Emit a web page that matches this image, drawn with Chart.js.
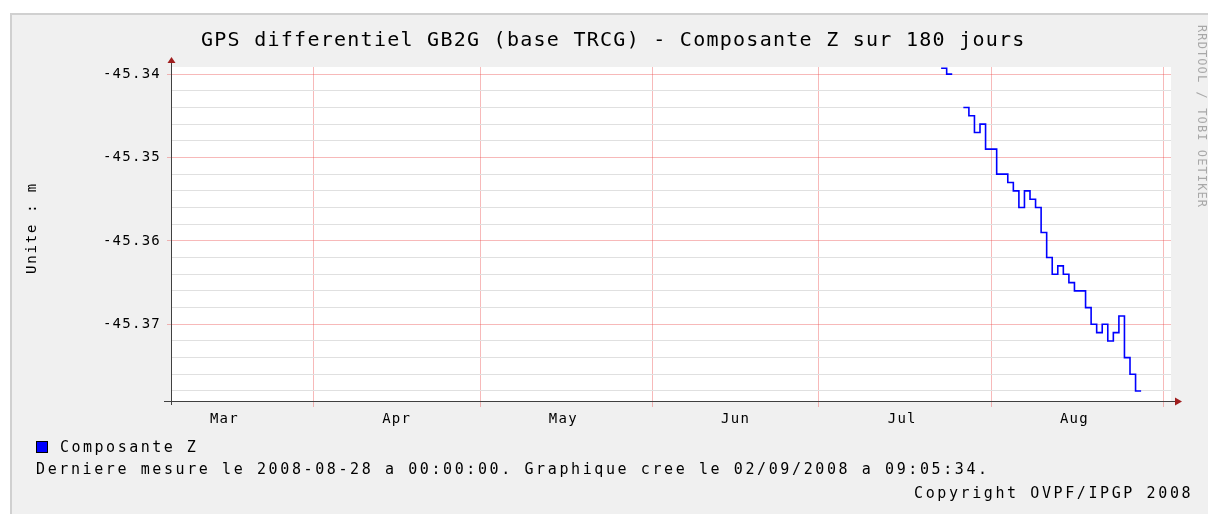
<!DOCTYPE html>
<html>
<head>
<meta charset="utf-8">
<script src="https://cdn.jsdelivr.net/npm/chart.js@4/dist/chart.umd.min.js"></script>
<style>
html,body{margin:0;padding:0;background:#fff;overflow:hidden}
canvas{display:block}
</style>
</head>
<body>
<canvas id="c" width="1208" height="514"></canvas>
<script>
// ---- texts ----
const titleText = 'GPS differentiel GB2G (base TRCG) - Composante Z sur 180 jours';
const yAxisTitle = 'Unite : m';
const seriesLabel = 'Composante Z';
const commentText = 'Derniere mesure le 2008-08-28 a 00:00:00. Graphique cree le 02/09/2008 a 09:05:34.';
const copyrightText = 'Copyright OVPF/IPGP 2008';
const watermarkText = 'RRDTOOL / TOBI OETIKER';

// ---- data: daily values (day the value applies to) ----
const sampleDays = [
  '2008-07-23','2008-07-24',
  '2008-07-27','2008-07-28','2008-07-29','2008-07-30','2008-07-31',
  '2008-08-01','2008-08-02','2008-08-03','2008-08-04','2008-08-05',
  '2008-08-06','2008-08-07','2008-08-08','2008-08-09','2008-08-10',
  '2008-08-11','2008-08-12','2008-08-13','2008-08-14','2008-08-15',
  '2008-08-16','2008-08-17','2008-08-18','2008-08-19','2008-08-20',
  '2008-08-21','2008-08-22','2008-08-23','2008-08-24','2008-08-25',
  '2008-08-26','2008-08-27'
];
const zValues = [
  -45.3393, -45.340,
  -45.344, -45.345, -45.347, -45.346, -45.349,
  -45.349, -45.352, -45.352, -45.353, -45.354,
  -45.356, -45.354, -45.355, -45.356, -45.359,
  -45.362, -45.364, -45.363, -45.364, -45.365,
  -45.366, -45.366, -45.368, -45.370, -45.371,
  -45.370, -45.372, -45.371, -45.369, -45.374,
  -45.376, -45.378
];

// ---- axes ----
const periodStart = '2008-03-06T09:05:34Z';
const periodDays = 180;
const monthLabels = ['Mar','Apr','May','Jun','Jul','Aug'];
const monthLabelDates = ['2008-03-16','2008-04-16','2008-05-16','2008-06-16','2008-07-16','2008-08-16'];
const monthGridDates = ['2008-04-01','2008-05-01','2008-06-01','2008-07-01','2008-08-01','2008-09-01'];
const yMajorTicks = [-45.34, -45.35, -45.36, -45.37];
const yMinorTicks = [-45.342,-45.344,-45.346,-45.348,-45.352,-45.354,-45.356,-45.358,
                     -45.362,-45.364,-45.366,-45.368,-45.372,-45.374,-45.376,-45.378];
const yMin = -45.3792, yMax = -45.33915;

// ---- helpers ----
const EPOCH = Date.UTC(2008, 2, 1);
const toDay = s => (Date.parse(s.length === 10 ? s + 'T00:00:00Z' : s) - EPOCH) / 86400000;
const xMin = toDay(periodStart);
const xMax = xMin + periodDays;

const points = [];
for (let i = 0; i < sampleDays.length; i++) {
  const d = toDay(sampleDays[i]);
  points.push({x: d, y: zValues[i]});
  const next = i + 1 < sampleDays.length ? toDay(sampleDays[i + 1]) : null;
  if (next === null || next - d > 1.5) {
    points.push({x: d + 1, y: zValues[i]});
    if (next !== null) points.push({x: d + 1.5, y: null});
  }
}

const MONO = 'DejaVu Sans Mono';
const RED = 'rgba(236,80,80,0.40)';
const MINOR = '#e0e0e0';
const CLEAR = 'rgba(0,0,0,0)';

function drawText(ctx, s, x, y, size, spacing, color, align, baseline, rot) {
  ctx.save();
  ctx.translate(x, y);
  if (rot) ctx.rotate(rot);
  ctx.font = size + 'px "' + MONO + '"';
  try { ctx.letterSpacing = spacing + 'px'; } catch (e) {}
  ctx.fillStyle = color;
  ctx.textAlign = align;
  ctx.textBaseline = baseline;
  ctx.fillText(s, 0, 0);
  ctx.restore();
}

const rrdPlugin = {
  id: 'rrdLook',
  beforeDraw(chart) {
    const ctx = chart.ctx, ca = chart.chartArea;
    ctx.save();
    ctx.fillStyle = '#ffffff';
    ctx.fillRect(0, 0, chart.width, chart.height);
    ctx.fillStyle = '#f0f0f0';
    ctx.fillRect(10, 13, chart.width - 10, chart.height - 13);
    ctx.fillStyle = '#d0d0d0';
    ctx.fillRect(10, 13, chart.width - 10, 2);
    ctx.fillRect(10, 13, 2, chart.height - 13);
    ctx.fillStyle = '#ffffff';
    ctx.fillRect(ca.left, ca.top, ca.right - ca.left, ca.bottom - ca.top);
    ctx.restore();
    try { ctx.letterSpacing = '1.25px'; } catch (e) {}
  },
  afterDraw(chart) {
    const ctx = chart.ctx, ca = chart.chartArea;
    try { ctx.letterSpacing = '0px'; } catch (e) {}
    ctx.save();
    // axis lines
    ctx.strokeStyle = '#404040';
    ctx.lineWidth = 1;
    ctx.beginPath();
    ctx.moveTo(ca.left + 0.5, ca.bottom + 4);
    ctx.lineTo(ca.left + 0.5, ca.top - 5);
    ctx.moveTo(ca.left - 7, ca.bottom + 0.5);
    ctx.lineTo(ca.right + 5, ca.bottom + 0.5);
    ctx.stroke();
    // arrows
    ctx.fillStyle = '#a01e1e';
    ctx.beginPath();
    ctx.moveTo(ca.left + 0.5, ca.top - 10);
    ctx.lineTo(ca.left - 3.5, ca.top - 4);
    ctx.lineTo(ca.left + 4.5, ca.top - 4);
    ctx.closePath();
    ctx.fill();
    ctx.beginPath();
    ctx.moveTo(ca.right + 11, ca.bottom + 0.5);
    ctx.lineTo(ca.right + 4, ca.bottom - 3.5);
    ctx.lineTo(ca.right + 4, ca.bottom + 4.5);
    ctx.closePath();
    ctx.fill();
    ctx.restore();

    // title
    drawText(ctx, titleText, 201, 46, 20, 1.26, '#000', 'left', 'alphabetic');
    // y axis title
    drawText(ctx, yAxisTitle, 32, 228, 14, 1.8, '#000', 'center', 'middle', -Math.PI / 2);
    // watermark
    drawText(ctx, watermarkText, 1201, 25, 12, 1.1, '#a8a8a8', 'left', 'middle', Math.PI / 2);
    // legend
    const ds = chart.data.datasets[0];
    ctx.save();
    ctx.fillStyle = ds.borderColor;
    ctx.fillRect(36.5, 441.5, 11, 11);
    ctx.strokeStyle = '#000';
    ctx.lineWidth = 1;
    ctx.strokeRect(36.5, 441.5, 11, 11);
    ctx.restore();
    drawText(ctx, ds.label, 60, 452, 15, 2.5, '#000', 'left', 'alphabetic');
    drawText(ctx, commentText, 36, 474, 15, 2.6, '#000', 'left', 'alphabetic');
    drawText(ctx, copyrightText, 914, 498, 15, 2.6, '#000', 'left', 'alphabetic');
  }
};

const xTicks = monthGridDates.map(d => ({value: toDay(d), isGrid: true, lbl: ''}))
  .concat(monthLabelDates.map((d, i) => ({value: toDay(d), isGrid: false, lbl: monthLabels[i]})))
  .sort((a, b) => a.value - b.value);
const yTicks = yMajorTicks.map(v => ({value: v, isMajor: true}))
  .concat(yMinorTicks.map(v => ({value: v, isMajor: false})))
  .sort((a, b) => a.value - b.value);

new Chart(document.getElementById('c'), {
  type: 'line',
  data: {
    datasets: [{
      label: seriesLabel,
      data: points,
      borderColor: '#0000ff',
      backgroundColor: '#0000ff',
      borderWidth: 1.6,
      pointRadius: 0,
      stepped: 'before',
      fill: false,
      spanGaps: false,
      clip: 0
    }]
  },
  options: {
    responsive: false,
    animation: false,
    devicePixelRatio: 1,
    layout: {padding: {left: 0, top: 67, right: 37, bottom: 83}},
    plugins: {legend: {display: false}, title: {display: false}, tooltip: {enabled: false}},
    scales: {
      x: {
        type: 'linear',
        min: xMin, max: xMax,
        bounds: 'data',
        afterFit: s => { s.height = 30; },
        afterBuildTicks: s => { s.ticks = xTicks.map(t => Object.assign({}, t)); },
        ticks: {
          autoSkip: false, maxRotation: 0, minRotation: 0, padding: 4,
          color: '#000', font: {family: MONO, size: 14},
          callback: (v, i, t) => (t[i] && t[i].lbl) || ''
        },
        grid: {
          color: c => (c.tick && c.tick.isGrid) ? RED : CLEAR,
          tickColor: c => (c.tick && c.tick.isGrid) ? RED : CLEAR,
          tickLength: 6, lineWidth: 1
        },
        border: {display: false}
      },
      y: {
        type: 'linear',
        min: yMin, max: yMax,
        bounds: 'data',
        afterFit: s => { s.width = 171; },
        afterBuildTicks: s => { s.ticks = yTicks.map(t => Object.assign({}, t)); },
        ticks: {
          autoSkip: false, padding: 6,
          color: '#000', font: {family: MONO, size: 14},
          callback: (v, i, t) => (t[i] && t[i].isMajor) ? v.toFixed(2) : ''
        },
        grid: {
          color: c => (c.tick && c.tick.isMajor) ? RED : MINOR,
          tickColor: c => (c.tick && c.tick.isMajor) ? RED : CLEAR,
          tickLength: 4, lineWidth: 1
        },
        border: {display: false}
      }
    }
  },
  plugins: [rrdPlugin]
});
</script>
</body>
</html>
